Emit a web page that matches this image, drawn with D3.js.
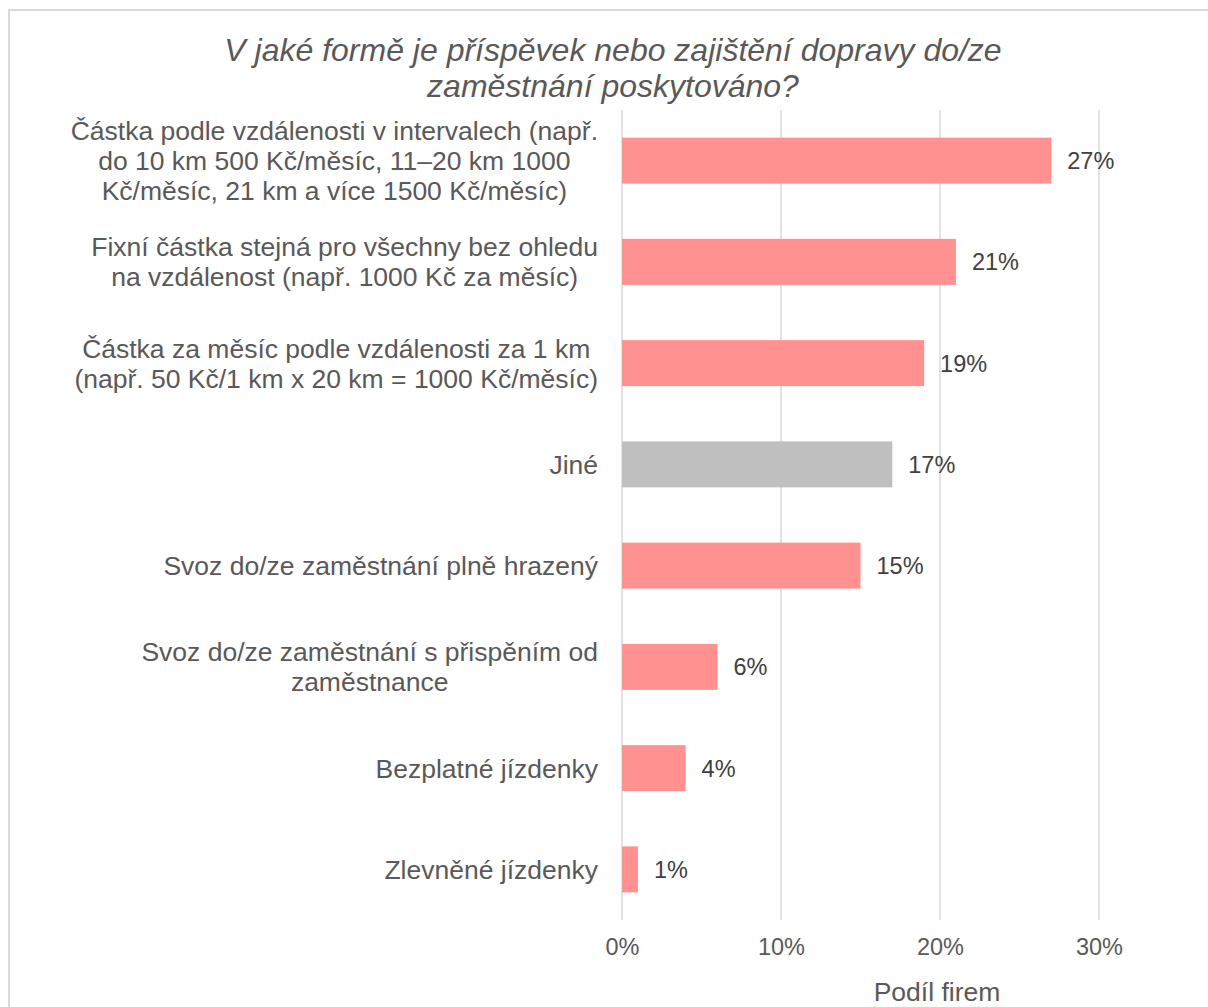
<!DOCTYPE html>
<html>
<head>
<meta charset="utf-8">
<script src="https://cdn.jsdelivr.net/npm/d3@7"></script>
<style>
  html, body { margin: 0; padding: 0; background: #fff; }
  svg { display: block; }
</style>
</head>
<body>
<svg id="chart" width="1208" height="1007"></svg>
<script>
// Forms of commuting support, share of companies
const categories = [
  "Částka podle vzdálenosti v intervalech (např.\ndo 10 km 500 Kč/měsíc, 11–20 km 1000\nKč/měsíc, 21 km a více 1500 Kč/měsíc)",
  "Fixní částka stejná pro všechny bez ohledu\nna vzdálenost (např. 1000 Kč za měsíc)",
  "Částka za měsíc podle vzdálenosti za 1 km\n(např. 50 Kč/1 km x 20 km = 1000 Kč/měsíc)",
  "Jiné",
  "Svoz do/ze zaměstnání plně hrazený",
  "Svoz do/ze zaměstnání s přispěním od\nzaměstnance",
  "Bezplatné jízdenky",
  "Zlevněné jízdenky"
];
const values = [0.27, 0.21, 0.19, 0.17, 0.15, 0.06, 0.04, 0.01];
const highlight = [false, false, false, true, false, false, false, false];
const tickValues = [0, 0.1, 0.2, 0.3];
const titleLines = ["V jaké formě je příspěvek nebo zajištění dopravy do/ze", "zaměstnání poskytováno?"];
const axisTitle = "Podíl firem";

const FONT = "'Liberation Sans', Arial, sans-serif";
const svg = d3.select("#chart");

// chart frame
svg.append("rect")
  .attr("x", 9).attr("y", 10)
  .attr("width", 1220).attr("height", 1020)
  .attr("fill", "#fff")
  .attr("stroke", "#d9d9d9").attr("stroke-width", 2);

const plot = { left: 622, right: 1099, top: 110, bottom: 920 };

const x = d3.scaleLinear().domain([0, 0.3]).range([plot.left, plot.right]);
const y = d3.scaleBand().domain(d3.range(categories.length))
  .range([plot.top, plot.bottom]).paddingInner(0.546).paddingOuter(0.273);

// title
svg.append("text")
  .attr("x", 613).attr("y", 61)
  .attr("text-anchor", "middle")
  .attr("font-family", FONT).attr("font-style", "italic")
  .attr("font-size", 32).attr("fill", "#595959")
  .selectAll("tspan").data(titleLines).join("tspan")
  .attr("x", 613).attr("dy", (d, i) => i ? 36 : 0)
  .text(d => d);

// vertical gridlines
svg.append("g").selectAll("line").data(tickValues).join("line")
  .attr("x1", d => x(d)).attr("x2", d => x(d))
  .attr("y1", plot.top).attr("y2", plot.bottom)
  .attr("stroke", "#d9d9d9").attr("stroke-width", 1.5);

// x axis tick labels
const xAxis = d3.axisBottom(x).tickValues(tickValues)
  .tickFormat(d3.format(".0%")).tickSize(0).tickPadding(0);
const ax = svg.append("g").attr("transform", `translate(0,${plot.bottom})`).call(xAxis);
ax.select(".domain").remove();
ax.selectAll("text")
  .attr("y", 35).attr("dy", null)
  .attr("font-family", FONT).attr("font-size", 23.5).attr("fill", "#595959");

// axis title
svg.append("text")
  .attr("x", 937).attr("y", 1001)
  .attr("text-anchor", "middle")
  .attr("font-family", FONT).attr("font-size", 26.5).attr("fill", "#595959")
  .text(axisTitle);

// bars
svg.append("g").selectAll("rect").data(values).join("rect")
  .attr("x", x(0))
  .attr("y", (d, i) => y(i))
  .attr("width", d => x(d) - x(0))
  .attr("height", y.bandwidth())
  .attr("fill", (d, i) => highlight[i] ? "#bfbfbf" : "#ff9191");

// value labels
svg.append("g").selectAll("text").data(values).join("text")
  .attr("x", d => x(d) + 16)
  .attr("y", (d, i) => y(i) + y.bandwidth() / 2 + 8.4)
  .attr("font-family", FONT).attr("font-size", 23.5).attr("fill", "#404040")
  .text(d => d3.format(".0%")(d));

// category labels (wrapped lines centred within a right-aligned block)
const labelRight = 598, lineH = 30;
const lg = svg.append("g");
categories.forEach((c, i) => {
  const lines = c.split("\n");
  const cy = y(i) + y.bandwidth() / 2;
  const t = lg.append("text")
    .attr("font-family", FONT).attr("font-size", 26.5).attr("fill", "#595959")
    .attr("text-anchor", "middle");
  const spans = lines.map((l, k) => t.append("tspan")
    .attr("y", cy + (k - (lines.length - 1) / 2) * lineH + 9.5)
    .text(l));
  const maxW = d3.max(spans, s => s.node().getComputedTextLength());
  spans.forEach(s => s.attr("x", labelRight - maxW / 2));
});
</script>
</body>
</html>
